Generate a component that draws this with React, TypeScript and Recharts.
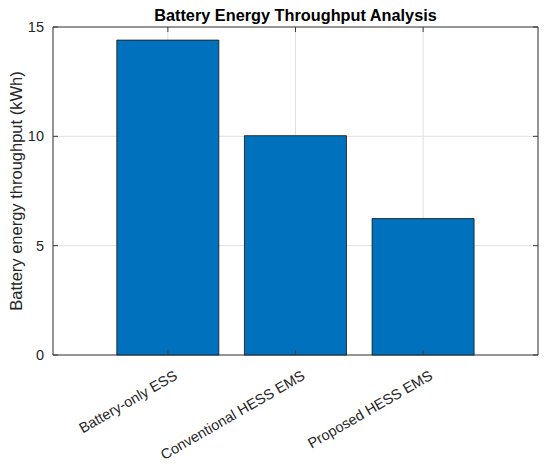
import React from "react";
import { BarChart, Bar, XAxis, YAxis, CartesianGrid, ReferenceArea, ReferenceLine } from "recharts";

const categories = ["Battery-only ESS", "Conventional HESS EMS", "Proposed HESS EMS"];
const categoryPositions = [1, 2, 3];
const throughputValues = [14.4, 10.03, 6.24];
const yTicks = [0, 5, 10, 15];
const xLimits: [number, number] = [0.1, 3.9];
const yLimits: [number, number] = [0, 15];
const chartTitle = "Battery Energy Throughput Analysis";
const yAxisLabel = "Battery energy throughput (kWh)";

const data = categories.map((name, i) => ({ name, pos: categoryPositions[i], value: throughputValues[i] }));

const FONT = '"Liberation Sans", Arial, Helvetica, sans-serif';
const TEXT = "#262626";
const AXIS = "#3a3a3a";
const TICK_LEN = 5;

const BottomTick = (props: any) => {
  const { x, y, payload } = props;
  const idx = categoryPositions.indexOf(payload.value);
  const ax = x + 8;
  const ay = y + 19;
  return (
    <text
      x={ax}
      y={ay}
      textAnchor="end"
      dominantBaseline="central"
      transform={`rotate(-30, ${ax}, ${ay})`}
      fill={TEXT}
      fontSize={14.5}
      fontFamily={FONT}
    >
      {idx >= 0 ? categories[idx] : ""}
    </text>
  );
};

const LeftTick = (props: any) => {
  const { x, y, payload } = props;
  return (
    <text
      x={x - 9}
      y={y}
      textAnchor="end"
      dominantBaseline="central"
      fill={TEXT}
      fontSize={14.5}
      fontFamily={FONT}
    >
      {payload.value}
    </text>
  );
};

// inward tick marks at both ends of a vertical reference line (top & bottom)
const VerticalTicks = (p: any) => {
  const top = Math.min(p.y1, p.y2);
  const bottom = Math.max(p.y1, p.y2);
  return (
    <g>
      <line x1={p.x1} y1={top} x2={p.x1} y2={top + TICK_LEN} stroke={AXIS} strokeWidth={1} />
      <line x1={p.x1} y1={bottom} x2={p.x1} y2={bottom - TICK_LEN} stroke={AXIS} strokeWidth={1} />
    </g>
  );
};

// inward tick marks at both ends of a horizontal reference line (left & right)
const HorizontalTicks = (p: any) => {
  const left = Math.min(p.x1, p.x2);
  const right = Math.max(p.x1, p.x2);
  return (
    <g>
      <line x1={left} y1={p.y1} x2={left + TICK_LEN} y2={p.y1} stroke={AXIS} strokeWidth={1} />
      <line x1={right} y1={p.y1} x2={right - TICK_LEN} y2={p.y1} stroke={AXIS} strokeWidth={1} />
    </g>
  );
};

export default function App() {
  return (
    <div style={{ marginLeft: -8, marginTop: -8, position: "relative", width: 550, height: 464, background: "#fff" }}>
      <BarChart
        width={550}
        height={464}
        data={data}
        margin={{ top: 27, right: 12, bottom: 19, left: 13 }}
        barCategoryGap="10%"
      >
        <CartesianGrid stroke="#e0e0e0" strokeWidth={1} />
        <XAxis
          dataKey="pos"
          type="number"
          domain={xLimits}
          allowDataOverflow
          ticks={categoryPositions}
          orientation="bottom"
          height={90}
          tickSize={0}
          tickMargin={0}
          tickLine={false}
          axisLine={false}
          tick={<BottomTick />}
          interval={0}
        />
        <YAxis
          orientation="left"
          width={40}
          domain={yLimits}
          ticks={yTicks}
          tickSize={0}
          tickMargin={0}
          tickLine={false}
          axisLine={false}
          tick={<LeftTick />}
          interval={0}
        />
        <Bar
          dataKey="value"
          fill="#0072BD"
          stroke="#111111"
          strokeWidth={0.8}
          isAnimationActive={false}
        />
        {categoryPositions.map((c) => (
          <ReferenceLine key={"vx" + c} x={c} shape={<VerticalTicks />} />
        ))}
        {yTicks.map((t) => (
          <ReferenceLine key={"hy" + t} y={t} shape={<HorizontalTicks />} />
        ))}
        <ReferenceArea
          x1={xLimits[0]}
          x2={xLimits[1]}
          y1={yLimits[0]}
          y2={yLimits[1]}
          fill="none"
          fillOpacity={0}
          stroke={AXIS}
          strokeWidth={1}
          ifOverflow="visible"
        />
      </BarChart>
      <svg
        width={550}
        height={464}
        style={{ position: "absolute", left: 0, top: 0, pointerEvents: "none" }}
      >
        <text
          x={295.5}
          y={20.5}
          textAnchor="middle"
          fontWeight="bold"
          fontSize={16.3}
          fontFamily={FONT}
          fill="#000"
        >
          {chartTitle}
        </text>
        <text
          x={16}
          y={191}
          textAnchor="middle"
          dominantBaseline="central"
          transform="rotate(-90, 16, 191)"
          fontSize={16.5}
          fontFamily={FONT}
          fill={TEXT}
        >
          {yAxisLabel}
        </text>
      </svg>
    </div>
  );
}
